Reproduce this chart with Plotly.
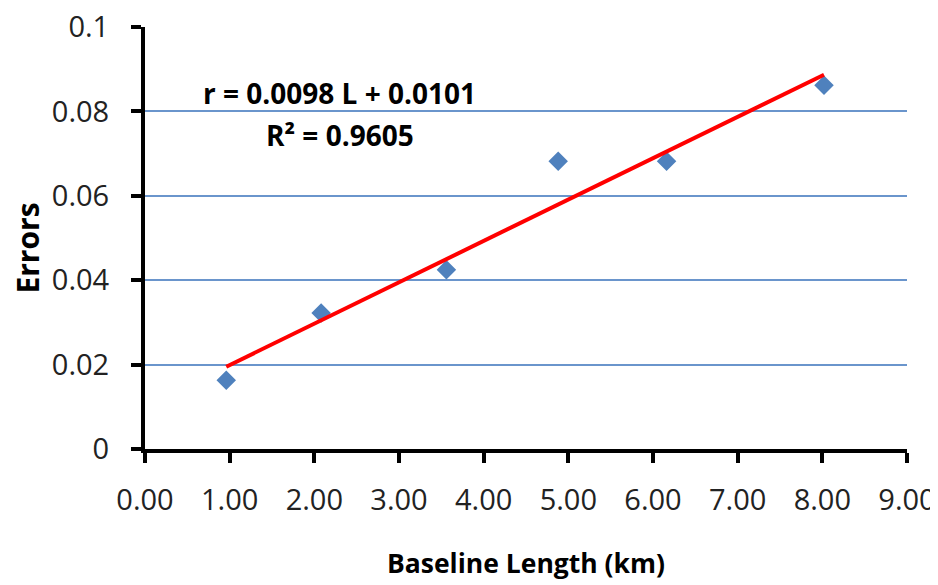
import plotly.graph_objects as go

baseline_km = [0.96, 2.08, 3.56, 4.88, 6.16, 8.02]
errors = [0.0163, 0.0322, 0.0425, 0.0682, 0.0682, 0.0862]
slope = 0.0098
intercept = 0.0101
x_ticks = [0, 1, 2, 3, 4, 5, 6, 7, 8, 9]
x_tick_labels = ["0.00", "1.00", "2.00", "3.00", "4.00", "5.00", "6.00", "7.00", "8.00", "9.00"]
y_ticks = [0, 0.02, 0.04, 0.06, 0.08, 0.1]
y_tick_labels = ["0", "0.02", "0.04", "0.06", "0.08", "0.1"]

FONT = "Open Sans"

fig = go.Figure()
fig.add_trace(go.Scatter(
    x=baseline_km, y=errors, mode="markers",
    marker=dict(symbol="diamond", size=15, color="#4F81BD"),
    showlegend=False, cliponaxis=False,
))
tx = [min(baseline_km), max(baseline_km)]
fig.add_trace(go.Scatter(
    x=tx, y=[slope * v + intercept for v in tx], mode="lines",
    line=dict(color="#FF0000", width=4), showlegend=False,
))

fig.add_annotation(
    x=2.3, y=0.0843, xref="x", yref="y",
    text="<b>r = 0.0098 L + 0.0101</b>", showarrow=False,
    font=dict(family=FONT, size=28, color="black"),
)
fig.add_annotation(
    x=2.3, y=0.0745, xref="x", yref="y",
    text="<b>R² = 0.9605</b>", showarrow=False,
    font=dict(family=FONT, size=28, color="black"),
)
# y-axis title
fig.add_annotation(
    x=0, y=0.475, xref="paper", yref="paper", xshift=-117,
    text="<b>Errors</b>", textangle=-90, showarrow=False,
    xanchor="center", yanchor="middle",
    font=dict(family=FONT, size=30, color="black"),
)

fig.update_xaxes(
    range=[0, 9], tickvals=x_ticks, ticktext=x_tick_labels,
    showline=True, linecolor="black", linewidth=4,
    ticks="outside", ticklen=10, tickwidth=4, tickcolor="black",
    ticklabelstandoff=12, ticklabeloverflow="allow",
    showgrid=False, zeroline=False, automargin=False,
    tickfont=dict(family=FONT, size=29, color="#222"),
    title=dict(text="<b>Baseline Length (km)</b>", font=dict(family=FONT, size=26.5, color="black"), standoff=39),
)
fig.update_yaxes(
    range=[0, 0.1], tickvals=y_ticks, ticktext=y_tick_labels,
    showline=True, linecolor="black", linewidth=4,
    ticks="outside", ticklen=10, tickwidth=4, tickcolor="black",
    ticklabelstandoff=16, ticklabeloverflow="allow",
    showgrid=True, gridcolor="#6A95CC", gridwidth=1.5, zeroline=False, automargin=False,
    tickfont=dict(family=FONT, size=29, color="#222"),
)
fig.update_layout(
    width=930, height=577,
    margin=dict(l=137, r=31, t=19, b=136),
    plot_bgcolor="white", paper_bgcolor="white",
)
fig.write_html("out.html")
